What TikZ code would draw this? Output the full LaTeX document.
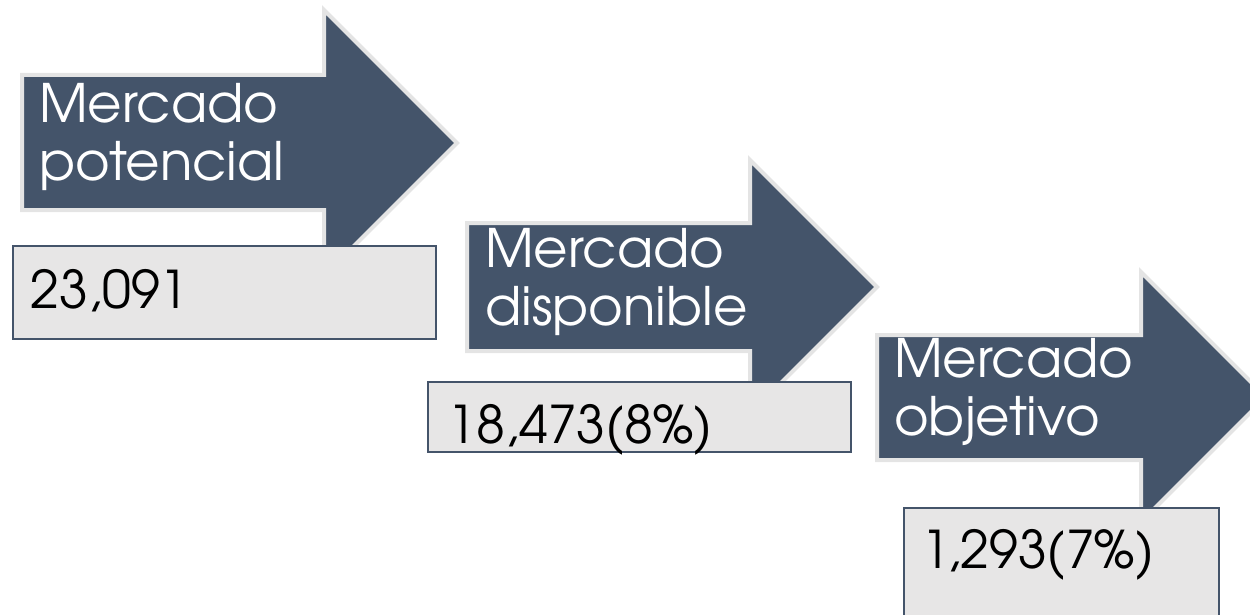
\documentclass[tikz,border=0pt]{standalone}
\usepackage{fontspec}
\setmainfont{TeX Gyre Adventor}
\definecolor{arrowfill}{HTML}{44546A}
\definecolor{arrowline}{HTML}{E4E4E4}
\definecolor{boxfill}{HTML}{E7E6E6}
\definecolor{boxline}{HTML}{44546A}
\begin{document}
\begin{tikzpicture}[x=1pt,y=-1pt,
  arrowbody/.style={fill=arrowfill, draw=arrowline, line width=4pt, line join=miter},
  valbox/.style={fill=boxfill, draw=boxline, line width=1.5pt, anchor=north west, inner sep=0pt},
  arrowtext/.style={anchor=base west, inner sep=0pt, text=white, align=left, font=\fontsize{53}{58}\selectfont},
  valtext/.style={anchor=base west, inner sep=0pt, text=black, font=\fontsize{52}{60}\selectfont}]
\useasboundingbox (0,0) rectangle (1250,615);
% arrow 1
\draw[arrowbody] (22,75) -- (324,75) -- (324,10) -- (457,143) -- (324,276) -- (324,210) -- (22,210) -- cycle;
\node[arrowtext] (a1) at (39,180) {Mercado\\potencial};
\node[valbox, minimum width=423pt, minimum height=93pt] (b1) at (12,245) {};
\node[valtext] (t1) at (30,308) {23,091};
% arrow 2
\draw[arrowbody] (467,223) -- (750,223) -- (750,160) -- (877,287) -- (750,414) -- (750,351) -- (467,351) -- cycle;
\node[arrowtext] (a2) at (485,325) {Mercado\\disponible};
\node[valbox, minimum width=423pt, minimum height=70pt] (b2) at (427,381) {};
\node[valtext] (t2) at (447,443) {18,473(8\%)};
% arrow 3
\draw[arrowbody] (877,335) -- (1141,335) -- (1141,272) -- (1266,397) -- (1141,522) -- (1141,460) -- (877,460) -- cycle;
\node[arrowtext] (a3) at (894,435) {Mercado\\objetivo};
\node[valbox, minimum width=315pt, minimum height=140pt] (b3) at (903,507) {};
\node[valtext] (t3) at (921,568) {1,293(7\%)};
\end{tikzpicture}
\end{document}
